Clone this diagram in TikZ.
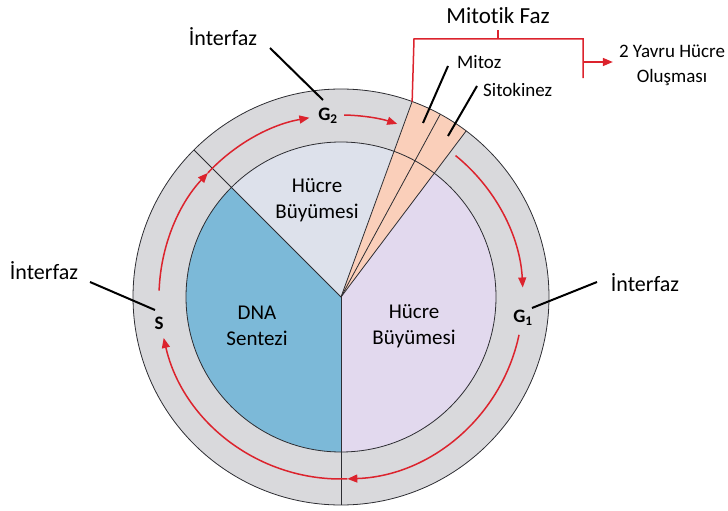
\documentclass[tikz,border=0pt]{standalone}
\usepackage{fontspec}
\setmainfont{Carlito}[Ligatures=NoCommon]
\usetikzlibrary{arrows.meta,calc}
\definecolor{ringgray}{RGB}{217,217,220}
\definecolor{dnablue}{RGB}{124,185,216}
\definecolor{topgray}{RGB}{221,225,235}
\definecolor{lilac}{RGB}{226,217,238}
\definecolor{peach}{RGB}{250,207,186}
\definecolor{cyred}{RGB}{220,35,45}
\definecolor{edgecol}{RGB}{45,45,50}
\begin{document}
\begin{tikzpicture}[x=1pt,y=1pt,
  redarc/.style={cyred,line width=1.5pt,-{Triangle[length=10pt,width=8pt]}},
  redline/.style={cyred,line width=1.5pt},
  leader/.style={black,line width=2pt},
  sep/.style={edgecol,line width=0.8pt},
  lab/.style={inner sep=0pt,font=\fontsize{22}{26}\selectfont},
  inlab/.style={inner sep=0pt,align=center,font=\fontsize{21}{26}\selectfont},
  smlab/.style={inner sep=0pt,font=\fontsize{19}{24}\selectfont},
  glab/.style={inner sep=0pt,font=\fontsize{19}{22}\selectfont\bfseries}]
\useasboundingbox (0,0) rectangle (728,-511);
\def\Ro{208}\def\Ri{155}\def\Ra{182}
\coordinate (C) at (341,-297);
% disks and sectors
\fill[ringgray] (C) circle[radius=\Ro];
\fill[dnablue] (C) -- ++(135:\Ri) arc[start angle=135,end angle=270,radius=\Ri] -- cycle;
\fill[lilac] (C) -- ++(-90:\Ri) arc[start angle=-90,end angle=53,radius=\Ri] -- cycle;
\fill[topgray] (C) -- ++(70:\Ri) arc[start angle=70,end angle=135,radius=\Ri] -- cycle;
\fill[peach] (C) -- ++(53:\Ro) arc[start angle=53,end angle=70,radius=\Ro] -- cycle;
\draw[sep] (C) circle[radius=\Ri];
\draw[sep] (C) circle[radius=\Ro];
\draw[sep] (C) -- ++(135:\Ro);
\draw[sep] (C) -- ++(-90:\Ro);
\draw[sep] (C) -- ++(53:\Ro);
\draw[sep] (C) -- ++(61.5:\Ro);
\draw[sep] (C) -- ++(70:\Ro);
% red cycle arrows
\draw[redarc] ($(C)+(51:\Ra)$) arc[start angle=51,end angle=3,radius=\Ra];
\draw[redarc] ($(C)+(-12:\Ra)$) arc[start angle=-12,end angle=-88,radius=\Ra];
\draw[redarc] ($(C)+(-88:\Ra)$) arc[start angle=-88,end angle=-167,radius=\Ra];
\draw[redarc] ($(C)+(178:\Ra)$) arc[start angle=178,end angle=137,radius=\Ra];
\draw[redarc] ($(C)+(137:\Ra)$) arc[start angle=137,end angle=100,radius=\Ra];
\draw[redarc] ($(C)+(89:\Ra)$) arc[start angle=89,end angle=72,radius=\Ra];
% phase labels
\node[glab] (g2) at (328,-116) {G\textsubscript{2}};
\node[glab] (g1) at (523,-318) {G\textsubscript{1}};
\node[glab] (s) at (159,-323) {S};
% inner texts
\node[inlab] (hb1) at (317,-200) {Hücre\\Büyümesi};
\node[inlab] (dna) at (257,-326) {DNA\\Sentezi};
\node[inlab] (hb2) at (414,-326) {Hücre\\Büyümesi};
% interfaz labels and leaders
\node[lab] (itop) at (223,-37) {İnterfaz};
\node[lab] (ileft) at (44,-271) {İnterfaz};
\node[lab] (iright) at (645,-283) {İnterfaz};
\coordinate (itopA) at (270,-48);
\coordinate (itopB) at (323,-100);
\coordinate (ileftA) at (90,-282);
\coordinate (ileftB) at (155,-310);
\coordinate (irightA) at (597,-282);
\coordinate (irightB) at (532,-308);
\draw[leader] (itopA) -- (itopB);
\draw[leader] (ileftA) -- (ileftB);
\draw[leader] (irightA) -- (irightB);
% mitotic phase
\node[lab,font=\fontsize{23}{26}\selectfont] (mf) at (498,-16) {Mitotik Faz};
\node[smlab,anchor=west] (mitoz) at (457,-62) {Mitoz};
\node[smlab,anchor=west] (sito) at (483,-90) {Sitokinez};
\node[smlab,align=center,font=\fontsize{19}{25}\selectfont] (yavru) at (672,-65) {2 Yavru Hücre\\Oluşması};
\coordinate (mzA) at (448,-66);
\coordinate (mzB) at (423,-123);
\coordinate (skA) at (477,-86);
\coordinate (skB) at (448,-136);
\draw[leader] (mzA) -- (mzB);
\draw[leader] (skA) -- (skB);
\coordinate (brL) at ($(C)+(70:\Ro)$);
\coordinate (brTL) at (414,-39);
\coordinate (brTR) at (583,-39);
\coordinate (brR) at (583,-78);
\coordinate (brTick) at (498,-30);
\coordinate (brMid) at (498,-39);
\coordinate (brArr) at (583,-62);
\draw[redline] (brL) -- (brTL) -- (brTR) -- (brR);
\draw[redline] (brMid) -- (brTick);
\draw[redarc] (brArr) -- ([xshift=-6pt]yavru.west |- brArr);
\end{tikzpicture}
\end{document}
